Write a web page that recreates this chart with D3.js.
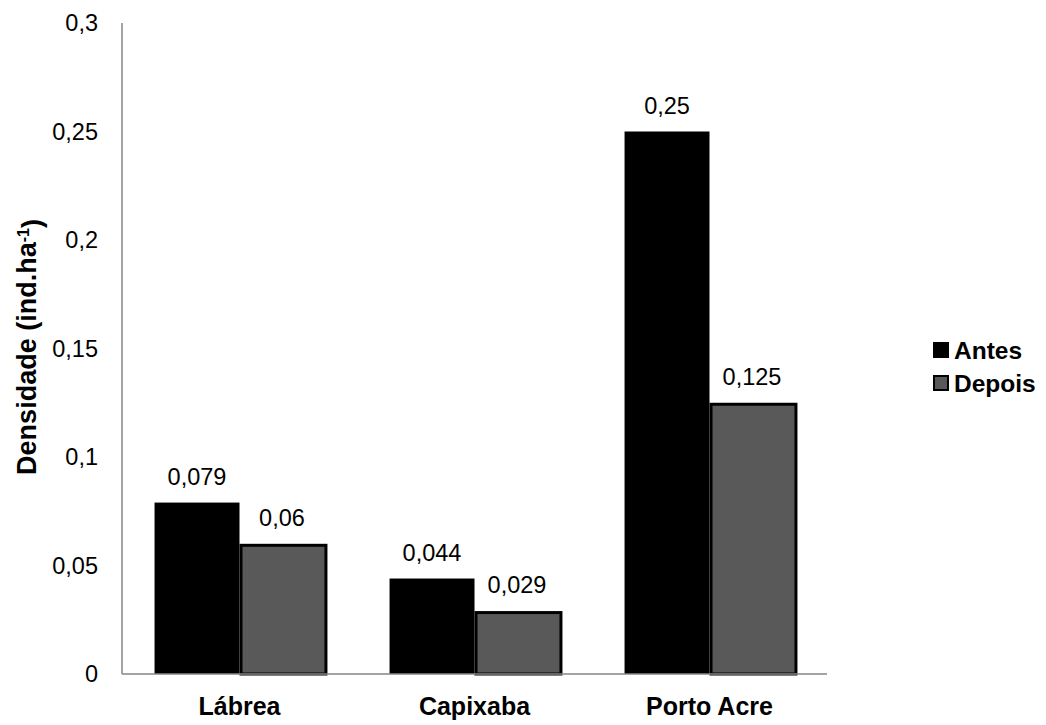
<!DOCTYPE html>
<html lang="pt">
<head>
<meta charset="UTF-8">
<title>Densidade</title>
<script src="https://d3js.org/d3.v7.min.js"></script>
<style>
  body { margin: 0; background: #fff; }
  text { font-family: "Liberation Sans", Arial, sans-serif; }
</style>
</head>
<body>
<div id="chart"></div>
<script>
// data
var locais = ["Lábrea", "Capixaba", "Porto Acre"];
var series = ["Antes", "Depois"];
var antes = [0.079, 0.044, 0.25];
var depois = [0.06, 0.029, 0.125];
var rotulosAntes = ["0,079", "0,044", "0,25"];
var rotulosDepois = ["0,06", "0,029", "0,125"];
var yTicks = [0, 0.05, 0.1, 0.15, 0.2, 0.25, 0.3];
var yTickLabels = ["0", "0,05", "0,1", "0,15", "0,2", "0,25", "0,3"];

var W = 1046, H = 725;
var margin = {top: 23, right: 219, bottom: 51, left: 122};
var width = W - margin.left - margin.right,
    height = H - margin.top - margin.bottom;

var svg = d3.select("#chart").append("svg")
    .attr("width", W).attr("height", H);
var g = svg.append("g")
    .attr("transform", "translate(" + margin.left + "," + margin.top + ")");

var x0 = d3.scaleBand().domain(locais).range([0, width]).paddingInner(0.277).paddingOuter(0.1385);
var x1 = d3.scaleBand().domain(series).range([0, x0.bandwidth()]);
var y = d3.scaleLinear().domain([0, 0.3]).range([height, 0]);

var rows = locais.map(function(l, i) {
  return {local: l, vals: [
    {s: "Antes", v: antes[i], lab: rotulosAntes[i]},
    {s: "Depois", v: depois[i], lab: rotulosDepois[i]}
  ]};
});

// bars
var grp = g.selectAll(".grp").data(rows).enter().append("g")
  .attr("transform", function(d) { return "translate(" + x0(d.local) + ",0)"; });

grp.selectAll("rect").data(function(d) { return d.vals; }).enter().append("rect")
  .attr("x", function(d) { return x1(d.s) + (d.s == "Depois" ? 1.5 : 0); })
  .attr("y", function(d) { return y(d.v) + (d.s == "Depois" ? 1.5 : 0); })
  .attr("width", x1.bandwidth())
  .attr("height", function(d) { return height - y(d.v) - (d.s == "Depois" ? 1.5 : 0); })
  .attr("fill", function(d) { return d.s == "Antes" ? "#000" : "#595959"; })
  .attr("stroke", function(d) { return d.s == "Antes" ? "none" : "#000"; })
  .attr("stroke-width", 3);

grp.selectAll(".lab").data(function(d) { return d.vals; }).enter().append("text")
  .attr("x", function(d) { return x1(d.s) + x1.bandwidth() / 2; })
  .attr("y", function(d) { return y(d.v) - 18; })
  .attr("text-anchor", "middle")
  .style("font-size", "23.5px")
  .text(function(d) { return d.lab; });

// axes
g.append("line").attr("x1", 0).attr("x2", 0).attr("y1", 0).attr("y2", height)
  .attr("stroke", "#868686").attr("stroke-width", 1.5);
g.append("line").attr("x1", 0).attr("x2", width).attr("y1", height).attr("y2", height)
  .attr("stroke", "#868686").attr("stroke-width", 1.5);

g.selectAll(".ytick").data(yTicks).enter().append("text")
  .attr("x", -24)
  .attr("y", function(d) { return y(d); })
  .attr("dy", "0.35em")
  .attr("text-anchor", "end")
  .style("font-size", "23.5px")
  .text(function(d, i) { return yTickLabels[i]; });

g.selectAll(".xlab").data(locais).enter().append("text")
  .attr("x", function(d) { return x0(d) + x0.bandwidth() / 2; })
  .attr("y", height + 41)
  .attr("text-anchor", "middle")
  .style("font-size", "25px").style("font-weight", "bold")
  .text(function(d) { return d; });

// y title
var yt = svg.append("text")
  .attr("transform", "translate(36,347) rotate(-90)")
  .attr("text-anchor", "middle")
  .style("font-size", "27px").style("font-weight", "bold");
yt.append("tspan").text("Densidade (ind.ha");
yt.append("tspan").attr("dy", "-0.45em").style("font-size", "16px").text("-1");
yt.append("tspan").attr("dy", "0.45em").text(")");

// legend
var leg = svg.append("g").attr("transform", "translate(933,342)");
series.forEach(function(s, i) {
  leg.append("rect")
    .attr("x", s == "Depois" ? 1 : 0).attr("y", i * 33 + (s == "Depois" ? 1 : 0))
    .attr("width", s == "Depois" ? 14 : 16).attr("height", s == "Depois" ? 14 : 16)
    .attr("fill", s == "Antes" ? "#000" : "#595959")
    .attr("stroke", s == "Antes" ? "none" : "#000").attr("stroke-width", 2);
  leg.append("text").attr("x", 21).attr("y", i * 33 + 8).attr("dy", "0.35em")
    .style("font-size", "24.5px").style("font-weight", "bold").text(s);
});
</script>
</body>
</html>
